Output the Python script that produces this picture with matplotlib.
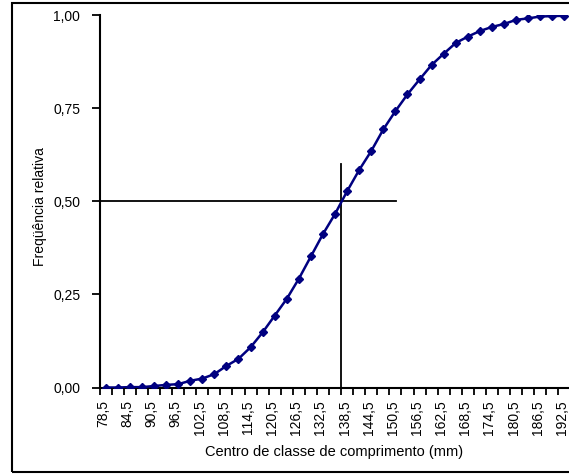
import matplotlib
matplotlib.use("Agg")
import matplotlib.pyplot as plt
import matplotlib.transforms as mtransforms
from matplotlib.patches import Rectangle

plt.rcParams['font.family'] = ['Liberation Sans', 'DejaVu Sans']

# Centros de classe (mm) e frequência relativa acumulada
centros = [78.5 + 3 * i for i in range(39)]
freq_acum = [0.000, 0.000, 0.001, 0.001, 0.004, 0.007, 0.009, 0.018, 0.024, 0.036,
             0.058, 0.077, 0.108, 0.148, 0.193, 0.238, 0.292, 0.352, 0.412, 0.466,
             0.527, 0.584, 0.635, 0.693, 0.742, 0.787, 0.827, 0.866, 0.896, 0.925,
             0.942, 0.957, 0.968, 0.976, 0.987, 0.991, 0.996, 0.997, 0.998]

# Linhas de referência do comprimento mediano
comp_mediano = 137.0
fim_linha_h = 150.7
topo_linha_v = 0.60

rotulos_x = centros[::2]
ticks_y = [0.0, 0.25, 0.5, 0.75, 1.0]
rotulos_y = ["0,00", "0,25", "0,50", "0,75", "1,00"]

fig = plt.figure(figsize=(5.69, 4.75), dpi=100)
ax = fig.add_axes([0.1752, 0.1842, 0.8273, 0.7842])

ax.plot(centros, freq_acum, color="#000080", lw=1.8, marker="D", ms=4.5,
        markeredgecolor="#000080", markerfacecolor="#000080", zorder=3)

ax.plot([centros[0] - 1.5, fim_linha_h], [0.5, 0.5], color="black", lw=1.3, zorder=2)
ax.plot([comp_mediano, comp_mediano], [0, topo_linha_v], color="black", lw=1.3, zorder=2)

ax.set_xlim(centros[0] - 1.5, centros[-1] + 1.5)
ax.set_ylim(0, 1)

# Marcas nos limites das classes, rótulos a cada duas classes
limites = [c - 1.5 for c in centros] + [centros[-1] + 1.5]
ax.set_xticks(limites)
ax.set_xticklabels([])
ax.set_xticks(rotulos_x, minor=True)
ax.set_xticklabels([f"{v:.1f}".replace(".", ",") for v in rotulos_x],
                   minor=True, rotation=90, fontsize=10)
ax.tick_params(axis="x", which="major", direction="out", length=5, width=1.3)
ax.tick_params(axis="x", which="minor", length=0, pad=9)

# desloca os rótulos do eixo x um pouco para a esquerda
desloc = mtransforms.ScaledTranslation(-2.5 / 100, 0, fig.dpi_scale_trans)
for rot in ax.get_xticklabels(minor=True):
    rot.set_transform(rot.get_transform() + desloc)

ax.set_yticks(ticks_y)
ax.set_yticklabels(rotulos_y, fontsize=10)
ax.tick_params(axis="y", direction="out", length=6, width=1.3, pad=8)

for lado in ["top", "right"]:
    ax.spines[lado].set_visible(False)
for lado in ["left", "bottom"]:
    ax.spines[lado].set_linewidth(1.5)

fig.text(334 / 569, (475 - 452) / 475, "Centro de classe de comprimento (mm)",
         ha="center", va="center", fontsize=10.5)
fig.text(40 / 569, (475 - 207) / 475, "Freqüência relativa",
         ha="center", va="center", rotation=90, fontsize=10)

# Moldura externa
fig.patches.append(Rectangle((0.0206, 0.0053), 1.0, 0.988, transform=fig.transFigure,
                             fill=False, edgecolor="black", lw=1.5))

fig.savefig("out.png", dpi=100)
